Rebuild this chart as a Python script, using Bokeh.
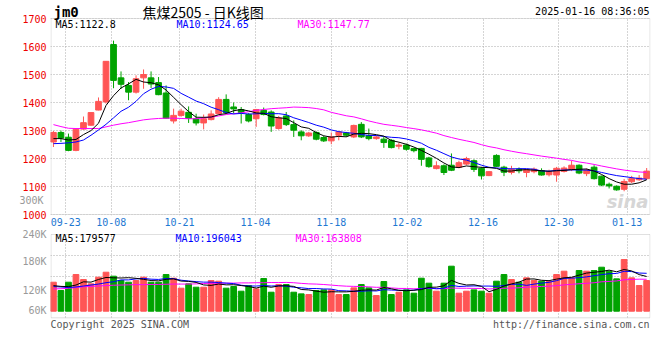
from bokeh.plotting import figure
from bokeh.models import Range1d, FixedTicker, Label, BoxAnnotation, LinearAxis
from bokeh.layouts import column
from bokeh.embed import file_html
from bokeh.resources import INLINE

# ---------------- data ----------------
tick_idx = [2, 8, 17, 27, 37, 47, 57, 67, 76]
tick_labels = ["09-23", "10-08", "10-21", "11-04", "11-18", "12-02", "12-16", "12-30", "01-13"]

open_ = [1259, 1293, 1276, 1229, 1305, 1319, 1373, 1402, 1607, 1488,
         1461, 1437, 1488, 1488, 1471, 1434, 1334, 1354, 1365, 1342,
         1327, 1339, 1360, 1411, 1384, 1375, 1357, 1342, 1372, 1366,
         1307, 1352, 1321, 1295, 1281, 1293, 1275, 1263, 1283, 1291,
         1277, 1322, 1281, 1271, 1269, 1265, 1244, 1248, 1236, 1236,
         1202, 1164, 1174, 1176, 1169, 1180, 1192, 1165, 1139, 1211,
         1169, 1150, 1162, 1150, 1153, 1157, 1142, 1141, 1154, 1161,
         1176, 1146, 1169, 1137, 1108, 1101, 1090, 1117, 1124, 1128]
high = [1298, 1300, 1289, 1307, 1350, 1364, 1418, 1547, 1621, 1511,
        1473, 1497, 1518, 1511, 1491, 1461, 1378, 1378, 1386, 1360,
        1357, 1372, 1419, 1429, 1400, 1384, 1362, 1377, 1382, 1372,
        1352, 1366, 1336, 1301, 1295, 1297, 1281, 1293, 1297, 1295,
        1321, 1330, 1307, 1281, 1277, 1269, 1257, 1253, 1238, 1238,
        1206, 1190, 1179, 1218, 1192, 1206, 1197, 1170, 1155, 1215,
        1174, 1174, 1168, 1162, 1168, 1165, 1160, 1170, 1172, 1192,
        1179, 1164, 1176, 1139, 1114, 1104, 1127, 1138, 1141, 1166]
low = [1241, 1259, 1226, 1226, 1303, 1317, 1372, 1396, 1451, 1449,
       1408, 1432, 1449, 1452, 1426, 1343, 1325, 1349, 1327, 1318,
       1304, 1336, 1357, 1360, 1360, 1325, 1329, 1313, 1354, 1295,
       1303, 1316, 1277, 1265, 1277, 1265, 1259, 1251, 1265, 1277,
       1273, 1273, 1265, 1267, 1238, 1236, 1233, 1228, 1222, 1174,
       1167, 1161, 1141, 1155, 1165, 1176, 1152, 1125, 1137, 1170,
       1137, 1143, 1147, 1133, 1147, 1139, 1136, 1117, 1150, 1155,
       1144, 1137, 1125, 1101, 1093, 1085, 1083, 1112, 1120, 1124]
close = [1293, 1273, 1229, 1304, 1328, 1364, 1404, 1547, 1479, 1465,
         1437, 1485, 1500, 1466, 1428, 1344, 1354, 1369, 1343, 1327,
         1342, 1359, 1411, 1364, 1377, 1364, 1334, 1375, 1357, 1316,
         1345, 1321, 1301, 1281, 1291, 1269, 1263, 1277, 1295, 1283,
         1318, 1277, 1271, 1277, 1257, 1239, 1248, 1233, 1228, 1197,
         1171, 1174, 1150, 1158, 1185, 1200, 1161, 1138, 1153, 1172,
         1151, 1162, 1156, 1160, 1162, 1141, 1153, 1165, 1166, 1176,
         1148, 1158, 1128, 1105, 1102, 1088, 1118, 1128, 1130, 1155]
volume = [149600, 106600, 149600, 189200, 163400, 141000, 175400, 201200, 180600, 158200,
          149600, 158200, 175400, 149600, 149600, 189200, 170300, 118700, 141000, 123800,
          123800, 158200, 154800, 118700, 127300, 103200, 132400, 115200, 168600, 98000,
          137600, 137600, 98000, 89400, 86000, 106600, 110100, 110100, 86000, 86000,
          120400, 137600, 120400, 80800, 153100, 86000, 98000, 110100, 92900, 170300,
          144500, 103200, 144500, 232200, 92900, 103200, 110100, 103200, 92900, 154800,
          189200, 163400, 149600, 172000, 158200, 154800, 153100, 189200, 206400, 172000,
          209800, 206400, 209800, 227000, 206400, 166800, 266600, 172000, 132400, 158200]

# moving-average values before enough bars are visible
ma5_head = [1271, 1271, 1266, 1268]
ma10_head = [1253, 1254, 1256, 1259, 1266, 1283, 1302, 1322, 1345]
ma30_head = [1321, 1314, 1308, 1307, 1307, 1307, 1307, 1313, 1319, 1324,
             1328, 1333, 1338, 1341, 1343, 1344, 1344, 1343, 1342, 1342,
             1345, 1348, 1352, 1357, 1360, 1363, 1367, 1372, 1375]
vma5_head = [132000, 128000, 127000, 135000]
vma10_head = [127000, 125000, 122000, 125000, 130000, 135000, 140000, 147000, 152000]
vma30_head = [115000, 116000, 118000, 122000, 126000, 128000, 130000, 132000, 134000, 135000,
              136000, 137000, 137000, 138000, 138000, 139000, 140000, 140000, 140000, 141000,
              143000, 144000, 144000, 145000, 145000, 146000, 146000, 147000, 147000]

price_ticks = [1000, 1100, 1200, 1300, 1400, 1500, 1600, 1700]
price_ma_text = ["MA5:1122.8", "MA10:1124.65", "MA30:1147.77"]
vol_ma_text = ["MA5:179577", "MA10:196043", "MA30:163808"]
vol_tick_labels = ["240K", "180K", "120K", "60K"]
price_extra_label = "300K"


def moving_average(vals, n, head):
    out = list(head)
    for i in range(n - 1, len(vals)):
        out.append(sum(vals[i - n + 1:i + 1]) / n)
    return out


ma5 = moving_average(close, 5, ma5_head)
ma10 = moving_average(close, 10, ma10_head)
ma30 = moving_average(close, 30, ma30_head)
vma5 = moving_average(volume, 5, vma5_head)
vma10 = moving_average(volume, 10, vma10_head)
vma30 = moving_average(volume, 30, vma30_head)

idx = list(range(len(close)))
RED, GREEN = "#ff5555", "#00a300"
colors = [RED if c >= o else GREEN for o, c in zip(open_, close)]
body_top = [max(o, c) for o, c in zip(open_, close)]
body_bot = [min(o, c) for o, c in zip(open_, close)]

# ---------------- layout helpers (page pixels -> data) ----------------
FRAME_L, FRAME_W = 50, 600
SLOT = 7.509                     # px per trading day
C0 = 52.95                       # page x of first candle centre
X0 = (FRAME_L - C0) / SLOT
X1 = X0 + FRAME_W / SLOT


def px2x(px):
    return X0 + (px - FRAME_L) / SLOT


# price frame spans page y 0..215 ; 1700 sits at page y 18 ; 0.28 px per yuan
P_PX = 0.28
P_FRAME_TOP, P_FRAME_H = 0, 215
P_HI = 1700 + (18 - P_FRAME_TOP) / P_PX
P_LO = P_HI - P_FRAME_H / P_PX


def py2p(py):
    return P_HI - (py - P_FRAME_TOP) / P_PX


# volume frame spans page y 228..338 ; zero line at page y 310.7 ; 5160 lots per px
V_PX = 5160.0
V_FRAME_TOP, V_FRAME_H = 228, 110
V_ZERO = 310.7
V_HI = (V_ZERO - V_FRAME_TOP) * V_PX
V_LO = V_HI - V_FRAME_H * V_PX


def py2v(py):
    return (V_ZERO - py) * V_PX


tick_pos = [round(px2x(50.13 + 7.586 * i), 4) for i in tick_idx]

MONO = "DejaVu Sans Mono"
GRID_C = "#aaaaaa"
BORDER_C = "#999999"


def style_axis(ax, color, standoff):
    ax.major_label_text_color = color
    ax.major_label_text_font = MONO
    ax.major_label_text_font_size = "10px"
    ax.major_tick_line_color = None
    ax.minor_tick_line_color = None
    ax.major_tick_out = 0
    ax.major_tick_in = 0
    ax.minor_tick_out = 0
    ax.minor_tick_in = 0
    ax.axis_line_color = None
    ax.major_label_standoff = standoff


# ---------------- price panel ----------------
p = figure(frame_width=FRAME_W, frame_height=P_FRAME_H,
           x_range=Range1d(X0, X1), y_range=Range1d(P_LO, P_HI),
           x_axis_location="below", y_axis_location="left",
           output_backend="svg", toolbar_location=None,
           min_border=0, min_border_left=50, min_border_right=8,
           min_border_top=0, min_border_bottom=13)
p.outline_line_color = None
p.background_fill_color = "white"
p.border_fill_color = "white"

p.yaxis.ticker = FixedTicker(ticks=price_ticks)
style_axis(p.yaxis[0], "#ee0000", 4)

# grey "300K" label shown by the original at the foot of the price panel
extra_tick = py2p(200)
ax300 = LinearAxis(ticker=FixedTicker(ticks=[extra_tick]),
                   major_label_overrides={extra_tick: price_extra_label})
style_axis(ax300, "#999999", -24)
p.add_layout(ax300, "left")

p.xaxis.ticker = FixedTicker(ticks=tick_pos)
p.xaxis.major_label_overrides = {t: l for t, l in zip(tick_pos, tick_labels)}
style_axis(p.xaxis[0], "#1e78d2", 2)

p.ygrid.ticker = FixedTicker(ticks=price_ticks)
for g in (p.xgrid, p.ygrid):
    g.grid_line_color = GRID_C
    g.grid_line_dash = "1 2"
    g.grid_line_width = 1

p.segment(x0=idx, y0=low, x1=idx, y1=high, line_color=colors, line_width=1)
p.vbar(x=idx, top=body_top, bottom=body_bot, width=0.76,
       fill_color=colors, line_color=colors, line_width=1)
p.line(idx, ma30, line_color="#ff00ff", line_width=1)
p.line(idx, ma10, line_color="#0000ff", line_width=1)
p.line(idx, ma5, line_color="#000000", line_width=1)

# white covers outside the panel box, then the panel border
p.add_layout(BoxAnnotation(bottom=1700, fill_color="white", fill_alpha=1, line_color=None))
p.add_layout(BoxAnnotation(top=1000, fill_color="white", fill_alpha=1, line_color=None))
p.add_layout(BoxAnnotation(bottom=1000, top=1700, left=px2x(50.5), right=px2x(649.5),
                           fill_color=None, fill_alpha=0, line_color=BORDER_C, line_width=1))

# header texts
p.add_layout(Label(x=px2x(53), y=py2p(11), text="jm0", text_font=MONO,
                   text_font_style="bold", text_font_size="14px",
                   text_baseline="middle", text_align="left", text_color="black"))
p.add_layout(Label(x=px2x(142), y=py2p(11), text="焦煤2505 - 日K线图",
                   text_font="Noto Sans CJK SC", text_font_size="14px",
                   text_baseline="middle", text_align="left", text_color="black"))
p.add_layout(Label(x=px2x(649), y=py2p(11), text="2025-01-16 08:36:05",
                   text_font=MONO, text_font_size="10px",
                   text_baseline="middle", text_align="right", text_color="black"))
for txt, xx, col in zip(price_ma_text, [55, 176, 297], ["black", "#0000ff", "#ff00ff"]):
    p.add_layout(Label(x=px2x(xx), y=py2p(23.5), text=txt, text_font=MONO,
                       text_font_size="10px", text_baseline="middle",
                       text_align="left", text_color=col))
p.add_layout(Label(x=px2x(648), y=py2p(201), text="sina", text_font="DejaVu Sans",
                   text_font_style="bold italic", text_font_size="18px",
                   text_baseline="middle", text_align="right", text_color="#d6d6d6"))

# ---------------- volume panel ----------------
v = figure(frame_width=FRAME_W, frame_height=V_FRAME_H,
           x_range=p.x_range, y_range=Range1d(V_LO, V_HI),
           x_axis_location=None, y_axis_location="left",
           output_backend="svg", toolbar_location=None,
           min_border=0, min_border_left=50, min_border_right=8,
           min_border_top=0, min_border_bottom=0)
v.outline_line_color = None
v.background_fill_color = "white"
v.border_fill_color = "white"

vol_tick_pos = [py2v(230.7), py2v(261), py2v(290), py2v(310)]
v.yaxis.ticker = FixedTicker(ticks=vol_tick_pos)
v.yaxis.major_label_overrides = {t: l for t, l in zip(vol_tick_pos, vol_tick_labels)}
style_axis(v.yaxis[0], "#999999", 4)

V_PANEL_TOP, V_PANEL_BOT = py2v(234), py2v(317.3)
v.xgrid.ticker = FixedTicker(ticks=tick_pos)
v.ygrid.ticker = FixedTicker(ticks=[py2v(234 + 83.3 * k / 4) for k in (1, 2, 3)])
for g in (v.xgrid, v.ygrid):
    g.grid_line_color = GRID_C
    g.grid_line_dash = "1 2"
    g.grid_line_width = 1

v.vbar(x=idx, top=volume, bottom=0, width=0.76, fill_color=colors, line_color=colors)
v.line(idx, vma30, line_color="#ff00ff", line_width=1)
v.line(idx, vma10, line_color="#0000ff", line_width=1)
v.line(idx, vma5, line_color="#000000", line_width=1)

v.add_layout(BoxAnnotation(bottom=V_PANEL_TOP, fill_color="white", fill_alpha=1, line_color=None))
v.add_layout(BoxAnnotation(top=V_PANEL_BOT, fill_color="white", fill_alpha=1, line_color=None))
v.add_layout(BoxAnnotation(bottom=V_PANEL_BOT, top=V_PANEL_TOP, left=px2x(50.5), right=px2x(649.5),
                           fill_color=None, fill_alpha=0, line_color=BORDER_C, line_width=1))

for txt, xx, col in zip(vol_ma_text, [55, 175, 295], ["black", "#0000ff", "#ff00ff"]):
    v.add_layout(Label(x=px2x(xx), y=py2v(238.3), text=txt, text_font=MONO,
                       text_font_size="10px", text_baseline="middle",
                       text_align="left", text_color=col))
v.add_layout(Label(x=px2x(50), y=py2v(324), text="Copyright 2025 SINA.COM", text_font=MONO,
                   text_font_size="10px", text_baseline="middle",
                   text_align="left", text_color="#555555"))
v.add_layout(Label(x=px2x(649), y=py2v(324), text="http://finance.sina.com.cn", text_font=MONO,
                   text_font_size="10px", text_baseline="middle",
                   text_align="right", text_color="#555555"))

layout = column(p, v, spacing=0)
open("out.html", "w").write(file_html(layout, INLINE))
